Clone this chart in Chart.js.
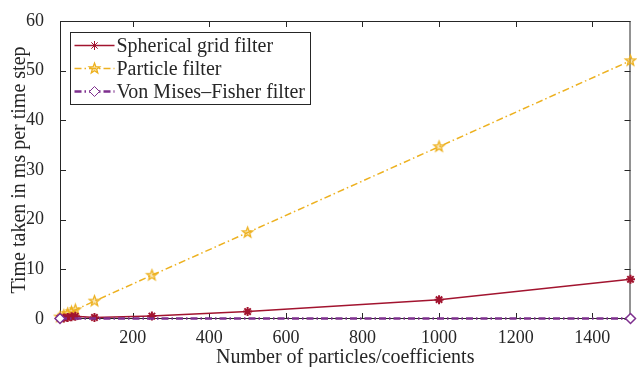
<!DOCTYPE html>
<html>
<head>
<meta charset="utf-8">
<script src="https://cdn.jsdelivr.net/npm/chart.js@4"></script>
<style>
  html, body { margin: 0; padding: 0; background: #fff; }
  #wrap { width: 637px; height: 367px; }
</style>
</head>
<body>
<div id="wrap"><canvas id="mainChart" width="637" height="367"></canvas></div>
<script>
// values
const sizes = [10, 20, 30, 40, 50, 100, 250, 500, 1000, 1500];
const gridTimes = [0.15, 0.2, 0.3, 0.45, 0.55, 0.3, 0.6, 1.5, 3.9, 8.0];
const particleTimes = [0.4, 0.75, 1.1, 1.45, 1.85, 3.6, 8.8, 17.4, 34.7, 52.0];
const vmfSizes = [10, 1500];
const vmfTimes = [0.1, 0.1];

const xTicks = [200, 400, 600, 800, 1000, 1200, 1400];
const yTicks = [0, 10, 20, 30, 40, 50, 60];

const seriesNames = ["Spherical grid filter", "Particle filter", "Von Mises\u2013Fisher filter"];
const colorPalette = ['#A2142F', '#EDB120', '#7E2F8E'];

const axisColor = '#262626';
const serif = "'Liberation Serif', 'DejaVu Serif', serif";

function toPoints(xs, ys) {
  return xs.map((x, i) => ({ x: x, y: ys[i] }));
}

// pentagram marker for the particle filter
function makePentagram(color, r) {
  const c = document.createElement('canvas');
  const s = Math.ceil(r * 2 + 4);
  c.width = s; c.height = s;
  const g = c.getContext('2d');
  g.beginPath();
  for (let i = 0; i < 10; i++) {
    const rad = i % 2 === 0 ? r : r * 0.42;
    const a = -Math.PI / 2 + i * Math.PI / 5;
    const px = s / 2 + rad * Math.cos(a);
    const py = s / 2 + rad * Math.sin(a);
    if (i === 0) g.moveTo(px, py); else g.lineTo(px, py);
  }
  g.closePath();
  g.lineWidth = 1.3;
  g.strokeStyle = color;
  g.stroke();
  g.fillStyle = 'rgba(237,177,32,0.35)';
  g.fill();
  return c;
}
const starImg = makePentagram(colorPalette[1], 5.5);

const dashDot = [7, 3, 1.5, 3];

// box + inward ticks, MATLAB style
const boxPlugin = {
  id: 'boxTicks',
  beforeDatasetsDraw(chart) {
    const { ctx, chartArea: a, scales } = chart;
    ctx.save();
    ctx.strokeStyle = axisColor;
    ctx.lineWidth = 1;
    ctx.strokeRect(a.left + 0.5, a.top + 0.5, a.right - a.left - 1, a.bottom - a.top - 1);
    const len = 6;
    ctx.beginPath();
    xTicks.forEach(v => {
      const px = Math.round(scales.x.getPixelForValue(v)) + 0.5;
      ctx.moveTo(px, a.bottom); ctx.lineTo(px, a.bottom - len);
      ctx.moveTo(px, a.top); ctx.lineTo(px, a.top + len);
    });
    yTicks.forEach(v => {
      const py = Math.round(scales.y.getPixelForValue(v)) + 0.5;
      ctx.moveTo(a.left, py); ctx.lineTo(a.left + len, py);
      ctx.moveTo(a.right, py); ctx.lineTo(a.right - len, py);
    });
    ctx.stroke();
    ctx.restore();
  },
  afterDraw(chart) {
    // legend box
    const { ctx } = chart;
    const bx = 70.5, by = 32.5, bw = 240, bh = 72;
    ctx.save();
    ctx.fillStyle = '#fff';
    ctx.fillRect(bx, by, bw, bh);
    ctx.strokeStyle = axisColor;
    ctx.lineWidth = 1;
    ctx.strokeRect(bx, by, bw, bh);
    ctx.font = '20px ' + serif;
    ctx.textBaseline = 'middle';
    chart.data.datasets.forEach((ds, i) => {
      const yy = by + 13 + i * 23;
      ctx.save();
      ctx.strokeStyle = ds.borderColor;
      ctx.lineWidth = ds.borderWidth;
      ctx.setLineDash(ds.borderDash || []);
      ctx.beginPath();
      ctx.moveTo(bx + 4, yy); ctx.lineTo(bx + 44, yy);
      ctx.stroke();
      ctx.restore();
      ctx.save();
      ctx.fillStyle = ds.pointBackgroundColor;
      ctx.strokeStyle = ds.borderColor;
      Chart.helpers.drawPoint(ctx, {
        pointStyle: ds.pointStyle,
        radius: ds.pointRadius,
        borderWidth: ds.pointBorderWidth || 1
      }, bx + 24, yy);
      ctx.restore();
      ctx.fillStyle = axisColor;
      ctx.fillText(seriesNames[i], bx + 46, yy + 1);
    });
    ctx.restore();
  }
};

const tickFont = { family: serif, size: 18 };
const titleFont = { family: serif, size: 20 };

const ctx = document.getElementById('mainChart').getContext('2d');
new Chart(ctx, {
  type: 'line',
  data: {
    datasets: [
      {
        label: seriesNames[0],
        data: toPoints(sizes, gridTimes),
        borderColor: colorPalette[0],
        backgroundColor: colorPalette[0],
        pointBackgroundColor: colorPalette[0],
        borderWidth: 1.5,
        pointStyle: 'star',
        pointRadius: 4.5,
        pointBorderWidth: 2,
        order: 1
      },
      {
        label: seriesNames[1],
        data: toPoints(sizes, particleTimes),
        borderColor: colorPalette[1],
        backgroundColor: colorPalette[1],
        pointBackgroundColor: colorPalette[1],
        borderWidth: 1.5,
        borderDash: dashDot,
        pointStyle: starImg,
        pointRadius: 5,
        order: 2
      },
      {
        label: seriesNames[2],
        data: toPoints(vmfSizes, vmfTimes),
        borderColor: colorPalette[2],
        backgroundColor: '#fff',
        pointBackgroundColor: '#fff',
        borderWidth: 2.5,
        borderDash: dashDot,
        pointStyle: 'rectRot',
        pointRadius: 5,
        pointBorderWidth: 1.5,
        order: 0
      }
    ]
  },
  options: {
    responsive: false,
    animation: false,
    clip: false,
    layout: { padding: { top: 21, right: 3, left: 0, bottom: 0 } },
    plugins: { legend: { display: false }, tooltip: { enabled: false } },
    scales: {
      x: {
        type: 'linear',
        min: 10,
        max: 1500,
        afterBuildTicks: s => { s.ticks = xTicks.map(v => ({ value: v })); },
        afterFit: s => { s.height = 48; },
        grid: { display: false },
        border: { display: false },
        ticks: { color: axisColor, font: tickFont, padding: 0, maxRotation: 0, callback: v => String(v) },
        title: { display: true, text: 'Number of particles/coefficients', color: axisColor, font: { family: serif, size: 20, lineHeight: 0.9 }, padding: 0 }
      },
      y: {
        type: 'linear',
        min: 0,
        max: 60,
        afterBuildTicks: s => { s.ticks = yTicks.map(v => ({ value: v })); },
        afterFit: s => { s.width = 60; },
        grid: { display: false },
        border: { display: false },
        ticks: { color: axisColor, font: tickFont, padding: 8, callback: v => String(v) },
        title: { display: true, text: 'Time taken in ms per time step', color: axisColor, font: titleFont, padding: { top: 8, bottom: 0 } }
      }
    }
  },
  plugins: [boxPlugin]
});
</script>
</body>
</html>
